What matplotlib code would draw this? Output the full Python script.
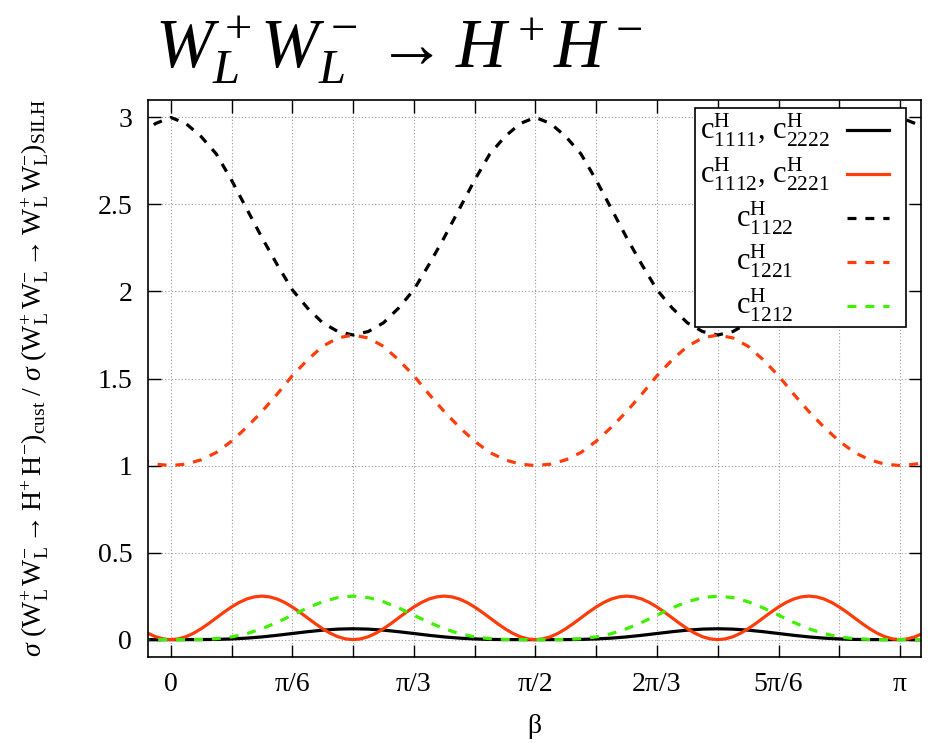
import numpy as np
import matplotlib
matplotlib.use("Agg")
import matplotlib.pyplot as plt
from matplotlib.patches import Rectangle

plt.rcParams['font.family'] = ['Liberation Serif', 'DejaVu Serif']
plt.rcParams['mathtext.fontset'] = 'custom'
plt.rcParams['mathtext.rm'] = 'Liberation Serif'
plt.rcParams['mathtext.it'] = 'Liberation Serif:italic'
plt.rcParams['mathtext.bf'] = 'Liberation Serif:bold'

# sample positions: beta = k * pi/48, k = -2 .. 50
beta = np.arange(-2, 51) * np.pi / 48
# finer sampling for the fast oscillating curve: k * pi/96, k = -4 .. 100
beta_fine = np.arange(-4, 101) * np.pi / 96

# c1111, c2222 (solid black)
c1111 = [0.0003, 0.00002,
         0, 0.00002, 0.0003, 0.0013, 0.0039, 0.0086, 0.0156, 0.0248, 0.0352, 0.0455, 0.0544, 0.0604,
         0.0625, 0.0604, 0.0544, 0.0455, 0.0352, 0.0248, 0.0156, 0.0086, 0.0039, 0.0013, 0.0003, 0.00002,
         0, 0.00002, 0.0003, 0.0013, 0.0039, 0.0086, 0.0156, 0.0248, 0.0352, 0.0455, 0.0544, 0.0604,
         0.0625, 0.0604, 0.0544, 0.0455, 0.0352, 0.0248, 0.0156, 0.0086, 0.0039, 0.0013, 0.0003, 0.00002,
         0, 0.00002, 0.0003]

# c1112, c2221 (solid red), on beta_fine
c1112 = [0.0625, 0.0366, 0.0167, 0.0043,
         0, 0.0043, 0.0167, 0.0366, 0.0625, 0.0926, 0.125, 0.1574, 0.1875, 0.2134, 0.2333, 0.2457,
         0.25, 0.2457, 0.2333, 0.2134, 0.1875, 0.1574, 0.125, 0.0926, 0.0625, 0.0366, 0.0167, 0.0043,
         0, 0.0043, 0.0167, 0.0366, 0.0625, 0.0926, 0.125, 0.1574, 0.1875, 0.2134, 0.2333, 0.2457,
         0.25, 0.2457, 0.2333, 0.2134, 0.1875, 0.1574, 0.125, 0.0926, 0.0625, 0.0366, 0.0167, 0.0043,
         0, 0.0043, 0.0167, 0.0366, 0.0625, 0.0926, 0.125, 0.1574, 0.1875, 0.2134, 0.2333, 0.2457,
         0.25, 0.2457, 0.2333, 0.2134, 0.1875, 0.1574, 0.125, 0.0926, 0.0625, 0.0366, 0.0167, 0.0043,
         0, 0.0043, 0.0167, 0.0366, 0.0625, 0.0926, 0.125, 0.1574, 0.1875, 0.2134, 0.2333, 0.2457,
         0.25, 0.2457, 0.2333, 0.2134, 0.1875, 0.1574, 0.125, 0.0926, 0.0625, 0.0366, 0.0167, 0.0043,
         0, 0.0043, 0.0167, 0.0366, 0.0625]

# c1122 (dashed black)
c1122 = [2.89, 2.965,
         3.0, 2.965, 2.89, 2.79, 2.64, 2.475, 2.31, 2.155, 2.01, 1.905, 1.82, 1.77,
         1.75, 1.77, 1.82, 1.905, 2.01, 2.155, 2.31, 2.475, 2.64, 2.79, 2.89, 2.965,
         3.0, 2.965, 2.89, 2.79, 2.64, 2.475, 2.31, 2.155, 2.01, 1.905, 1.82, 1.77,
         1.75, 1.77, 1.82, 1.905, 2.01, 2.155, 2.31, 2.475, 2.64, 2.79, 2.89, 2.965,
         3.0, 2.965, 2.89]

# c1221 (dashed red)
c1221 = [1.033, 1.008,
         1.0, 1.008, 1.033, 1.075, 1.14, 1.22, 1.31, 1.41, 1.516, 1.607, 1.685, 1.733,
         1.75, 1.733, 1.685, 1.607, 1.516, 1.41, 1.31, 1.22, 1.14, 1.075, 1.033, 1.008,
         1.0, 1.008, 1.033, 1.075, 1.14, 1.22, 1.31, 1.41, 1.516, 1.607, 1.685, 1.733,
         1.75, 1.733, 1.685, 1.607, 1.516, 1.41, 1.31, 1.22, 1.14, 1.075, 1.033, 1.008,
         1.0, 1.008, 1.033]

# c1212 (dashed green)
c1212 = [0.0011, 0.0001,
         0, 0.0001, 0.0011, 0.0054, 0.0156, 0.0343, 0.0625, 0.0990, 0.1406, 0.1821, 0.2176, 0.2416,
         0.25, 0.2416, 0.2176, 0.1821, 0.1406, 0.0990, 0.0625, 0.0343, 0.0156, 0.0054, 0.0011, 0.0001,
         0, 0.0001, 0.0011, 0.0054, 0.0156, 0.0343, 0.0625, 0.0990, 0.1406, 0.1821, 0.2176, 0.2416,
         0.25, 0.2416, 0.2176, 0.1821, 0.1406, 0.0990, 0.0625, 0.0343, 0.0156, 0.0054, 0.0011, 0.0001,
         0, 0.0001, 0.0011]

x_tick_labels = ['0', '', 'π/6', '', 'π/3', '', 'π/2', '', '2π/3', '', '5π/6', '', 'π']
y_ticks = [0, 0.5, 1, 1.5, 2, 2.5, 3]
y_tick_labels = ['0', '0.5', '1', '1.5', '2', '2.5', '3']

legend_labels = [r'$\mathrm{c}^{\mathrm{H}}_{1111}$, $\mathrm{c}^{\mathrm{H}}_{2222}$',
                 r'$\mathrm{c}^{\mathrm{H}}_{1112}$, $\mathrm{c}^{\mathrm{H}}_{2221}$',
                 r'$\mathrm{c}^{\mathrm{H}}_{1122}$',
                 r'$\mathrm{c}^{\mathrm{H}}_{1221}$',
                 r'$\mathrm{c}^{\mathrm{H}}_{1212}$']

RED = '#ff3c0a'
GREEN = '#3ff000'
DASH = (0, (2.8, 2.8))
LW = 2.3

series = [
    (beta, c1111, 'black', '-'),
    (beta_fine, c1112, RED, '-'),
    (beta, c1122, 'black', DASH),
    (beta, c1221, RED, DASH),
    (beta, c1212, GREEN, DASH),
]

fig = plt.figure(figsize=(9.33, 7.43), dpi=100)
ax = fig.add_axes([0.1581, 0.1157, 0.829, 0.7497])

for xs, vals, col, ls in series:
    ax.plot(xs, vals, color=col, ls=ls, lw=LW)

ax.set_xlim(-0.1, np.pi + 0.09)
ax.set_ylim(-0.1, 3.1)
ax.set_xticks(np.arange(13) * np.pi / 12)
ax.set_xticklabels(x_tick_labels)
ax.set_yticks(y_ticks)
ax.set_yticklabels(y_tick_labels)
ax.tick_params(direction='in', length=9, width=1, top=True, right=True,
               labelsize=20, pad=11)
ax.grid(True, color='#999999', linestyle=(0, (1, 2)), lw=0.8)
for sp in ax.spines.values():
    sp.set_linewidth(1.2)

ax.set_xlabel('β', fontsize=20, labelpad=12)
fig.text(35 / 933, 1 - 378 / 743,
         r'$\sigma\ (\mathrm{W}^{+}_{\mathrm{L}}\,\mathrm{W}^{-}_{\mathrm{L}} \rightarrow \mathrm{H}^{+}\,\mathrm{H}^{-})_{\mathrm{cust}}'
         r'\ /\ \sigma\ (\mathrm{W}^{+}_{\mathrm{L}}\,\mathrm{W}^{-}_{\mathrm{L}} \rightarrow \mathrm{W}^{+}_{\mathrm{L}}\,\mathrm{W}^{-}_{\mathrm{L}})_{\mathrm{SILH}}$',
         rotation=90, ha='center', va='center', fontsize=20)

fig.text(155 / 933, 1 - 68 / 743, r'$W_L^+W_L^- \rightarrow H^+H^-$',
         fontsize=50, ha='left', va='baseline')

# key box, top right
ax.add_patch(Rectangle((0.708, 0.593), 0.273, 0.392, transform=ax.transAxes,
                       facecolor='white', edgecolor='black', lw=1.2, zorder=5))
rows_y = [0.946, 0.867, 0.788, 0.710, 0.631]
for (xs, vals, col, ls), lab, yy in zip(series, legend_labels, rows_y):
    ax.text(0.798, yy, lab, transform=ax.transAxes, ha='center', va='center',
            fontsize=22, zorder=6)
    ax.plot([0.904, 0.959], [yy, yy], transform=ax.transAxes, color=col,
            ls=ls, lw=LW, zorder=6)

fig.savefig('out.png', dpi=100)
